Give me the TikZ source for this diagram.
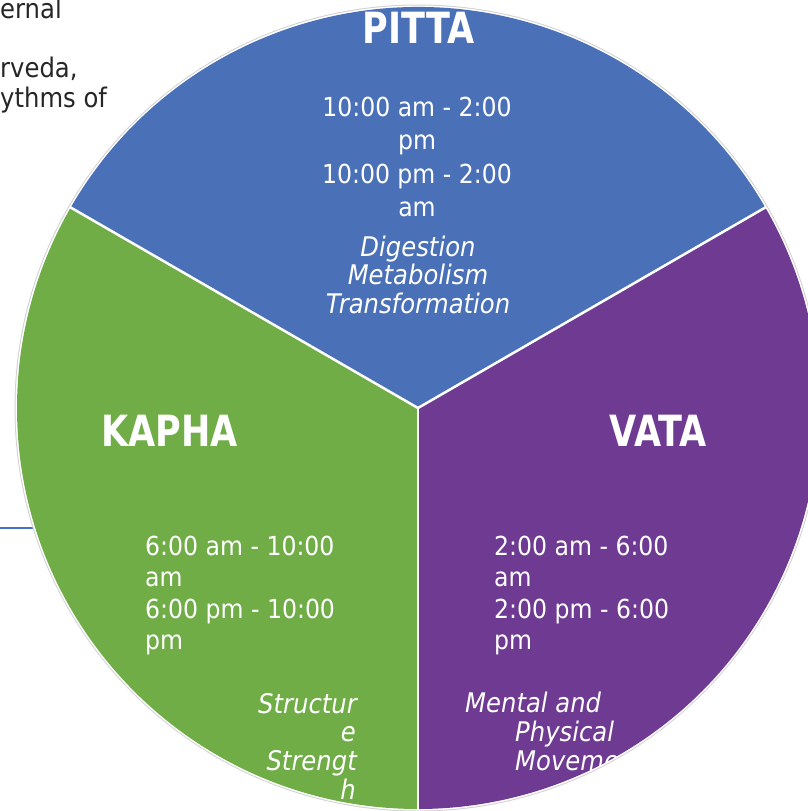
\documentclass[tikz,border=0pt]{standalone}
\usepackage{fontspec}
\usepackage{graphicx}
\setmainfont{Liberation Sans}
\newfontfamily\tahomaish[FakeStretch=0.9]{DejaVu Sans}
\newfontfamily\headfont[FakeStretch=0.815]{DejaVu Sans}
\definecolor{pittablue}{HTML}{4A71B7}
\definecolor{vatapurple}{HTML}{6E3A92}
\definecolor{kaphagreen}{HTML}{70AD47}
\definecolor{bodytext}{HTML}{262626}
\definecolor{lineblue}{HTML}{4472C4}
\tikzset{
  heading/.style={text=white, inner sep=0pt, anchor=base, font=\headfont\fontsize{43}{43}\selectfont\bfseries},
  timetext/.style={text=white, inner sep=0pt, font=\tahomaish\fontsize{26.2}{32}\selectfont},
  roletext/.style={text=white, inner sep=0pt, font=\tahomaish\fontsize{27}{29}\selectfont\itshape},
  bgtext/.style={text=bodytext, inner sep=0pt, anchor=base west, font=\tahomaish\fontsize{27}{32}\selectfont},
  sepline/.style={white, line width=2.5pt}
}
\begin{document}
\begin{tikzpicture}[x=1pt,y=-1pt]
\useasboundingbox (0,0) rectangle (808,811);
\clip (0,0) rectangle (808,811);
% background text
\node[bgtext] (t1) at (0,18) {ernal};
\node[bgtext] (t2) at (0,77) {rveda,};
\node[bgtext] (t3) at (0,107) {ythms of};
\coordinate (lineA) at (0,528);
\coordinate (lineB) at (40,528);
\draw[lineblue, line width=2pt] (lineA) -- (lineB);
% sectors
\coordinate (c) at (418,408);
\fill[gray!35] (c) circle[radius=403.5];
\fill[white] (c) circle[radius=402.5];
\fill[pittablue] (c) -- ++(-150:401) arc[start angle=-150, end angle=-30, radius=401] -- cycle;
\fill[vatapurple] (c) -- ++(-30:401) arc[start angle=-30, end angle=90, radius=401] -- cycle;
\fill[kaphagreen] (c) -- ++(90:401) arc[start angle=90, end angle=210, radius=401] -- cycle;
\draw[sepline] (c) -- ++(-150:402);
\draw[sepline] (c) -- ++(-30:402);
\draw[sepline] (c) -- ++(90:402);
% PITTA
\node[heading] (pitta) at (418.5,43) {PITTA};
\node[timetext, anchor=base] (p1) at (417,116) {10:00 am - 2:00};
\node[timetext, anchor=base] (p2) at (417,149) {pm};
\node[timetext, anchor=base] (p3) at (417,183) {10:00 pm - 2:00};
\node[timetext, anchor=base] (p4) at (417,216) {am};
\node[roletext, anchor=base] (p5) at (418,256) {Digestion};
\node[roletext, anchor=base] (p6) at (418,284) {Metabolism};
\node[roletext, anchor=base] (p7) at (418,313) {Transformation};
% KAPHA
\node[heading] (kapha) at (169.5,446) {KAPHA};
\node[timetext, anchor=base west] (k1) at (145,555) {6:00 am - 10:00};
\node[timetext, anchor=base west] (k2) at (145,586.5) {am};
\node[timetext, anchor=base west] (k3) at (145,618) {6:00 pm - 10:00};
\node[timetext, anchor=base west] (k4) at (145,649.5) {pm};
\node[roletext, anchor=base east] (k5) at (357,713) {Structur};
\node[roletext, anchor=base east] (k6) at (356,741) {e};
\node[roletext, anchor=base east] (k7) at (357,770) {Strengt};
\node[roletext, anchor=base east] (k8) at (356,799) {h};
% VATA
\node[heading] (vata) at (658,446) {VATA};
\node[timetext, anchor=base west] (v1) at (494,555) {2:00 am - 6:00};
\node[timetext, anchor=base west] (v2) at (494,586.5) {am};
\node[timetext, anchor=base west] (v3) at (494,618) {2:00 pm - 6:00};
\node[timetext, anchor=base west] (v4) at (494,649.5) {pm};
\begin{scope}
\clip (c) circle[radius=401];
\node[roletext, anchor=base west] (v5) at (465,712) {Mental and};
\node[roletext, anchor=base west] (v6) at (515,741) {Physical};
\node[roletext, anchor=base west] (v7) at (515,770) {Movement};
\end{scope}
\end{tikzpicture}
\end{document}
